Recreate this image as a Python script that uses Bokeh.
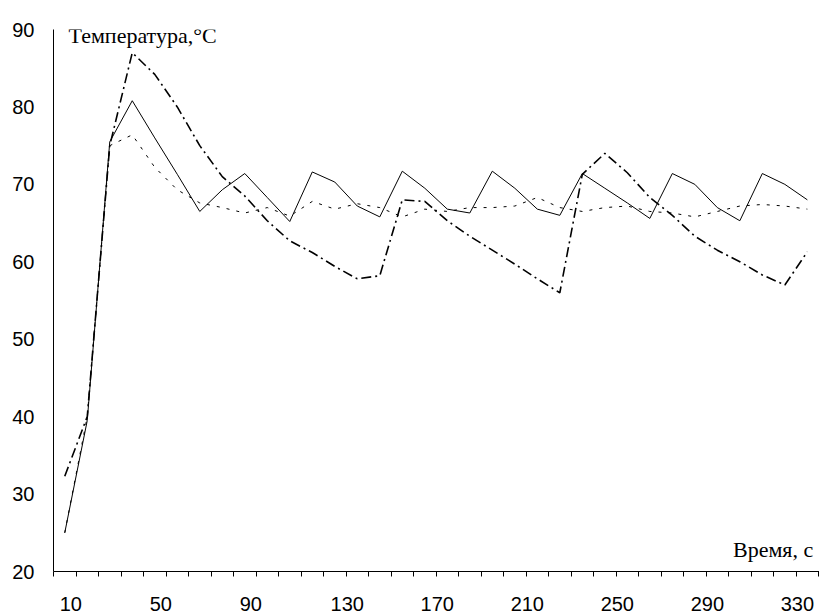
from bokeh.plotting import figure
from bokeh.models import Range1d, FixedTicker, Label
from bokeh.embed import file_html
from bokeh.resources import INLINE

# ---- data ----
time_s = [10, 20, 30, 40, 50, 60, 70, 80, 90, 100, 110, 120, 130, 140, 150, 160, 170,
          180, 190, 200, 210, 220, 230, 240, 250, 260, 270, 280, 290, 300, 310, 320, 330, 340]

temp_solid = [25.0, 39.5, 75.5, 80.8, 76.0, 71.3, 66.5, 69.3, 71.4, 68.3, 65.2, 71.6, 70.3,
              67.2, 65.8, 71.7, 69.5, 66.8, 66.3, 71.7, 69.5, 66.8, 66.0, 71.4, 69.5, 67.6,
              65.6, 71.4, 70.0, 67.0, 65.3, 71.4, 70.0, 68.0]

temp_dotted = [25.0, 40.0, 75.0, 76.4, 72.2, 69.3, 67.6, 67.0, 66.3, 67.0, 65.9, 67.8, 66.8,
               67.5, 67.0, 65.8, 66.8, 66.5, 67.0, 67.0, 67.2, 68.3, 67.0, 66.5, 67.0, 67.2,
               66.5, 66.3, 65.8, 66.5, 67.2, 67.4, 67.2, 66.8]

temp_dashdot = [32.3, 40.0, 75.0, 87.0, 84.2, 80.0, 75.0, 71.0, 68.5, 65.3, 62.7, 61.2, 59.4,
                57.8, 58.2, 68.0, 67.8, 65.3, 63.3, 61.5, 59.7, 57.8, 56.0, 71.3, 74.0, 71.5,
                68.3, 66.0, 63.3, 61.5, 60.0, 58.3, 57.0, 61.3]

x_tick_labels = ["10", "50", "90", "130", "170", "210", "250", "290", "330"]
y_ticks = [20, 30, 40, 50, 60, 70, 80, 90]

y_title = "Температура,°С"
x_title = "Время, с"

# ---- figure ----
W, H = 819, 614
LEFT, TOP, BOTTOM = 53, 29, 43
X0, X1 = 5, 345.4
p = figure(width=W, height=H, output_backend="svg", toolbar_location=None,
           x_range=Range1d(X0, X1), y_range=Range1d(20, 90),
           min_border_left=LEFT, min_border_right=0, min_border_top=TOP,
           min_border_bottom=BOTTOM)
p.outline_line_color = None
p.xgrid.grid_line_color = None
p.ygrid.grid_line_color = None
p.background_fill_color = "white"
p.border_fill_color = "white"

# x axis: labels every 4th category, tick marks on category boundaries
px_per_unit = (W - LEFT) / (X1 - X0)
label_vals = [int(s) for s in x_tick_labels]
label_pos = [v + (6.0 if len(s) == 2 else 12.5) / px_per_unit
             for v, s in zip(label_vals, x_tick_labels)]
boundaries = [t - 5 for t in time_s] + [time_s[-1] + 5]
p.xaxis.ticker = FixedTicker(ticks=label_pos, minor_ticks=boundaries)
p.xaxis.major_label_overrides = {pos: s for pos, s in zip(label_pos, x_tick_labels)}
p.xaxis.major_tick_out = 0
p.xaxis.major_tick_in = 0
p.xaxis.minor_tick_out = 5
p.xaxis.minor_tick_in = 0
p.xaxis.minor_tick_line_color = "black"
p.xaxis.major_label_standoff = 20

p.yaxis.ticker = FixedTicker(ticks=y_ticks, minor_ticks=[])
p.yaxis.major_tick_out = 5
p.yaxis.major_tick_in = 0
p.yaxis.major_label_standoff = 14

for ax in (p.xaxis, p.yaxis):
    ax.axis_line_color = "black"
    ax.axis_line_width = 1
    ax.major_tick_line_color = "black" if ax is p.yaxis else None
    ax.major_label_text_font = "Liberation Sans"
    ax.major_label_text_font_size = "20px"
    ax.major_label_text_color = "black"

# ---- series ----
p.line(time_s, temp_dotted, line_color="black", line_width=1, line_dash="3 7")
p.line(time_s, temp_dashdot, line_color="black", line_width=1.6, line_dash="10 4 2 4")
p.line(time_s, temp_solid, line_color="black", line_width=1)

# ---- axis titles ----
p.add_layout(Label(x=11.7, y=89.23, text=y_title, text_font="Liberation Serif",
                   text_font_size="22px", text_color="black", text_align="left",
                   text_baseline="alphabetic"))
p.add_layout(Label(x=342.6, y=22.9, text=x_title, text_font="Liberation Serif",
                   text_font_size="22px", text_color="black", text_align="right",
                   text_baseline="alphabetic"))

open("out.html", "w").write(file_html(p, INLINE))
